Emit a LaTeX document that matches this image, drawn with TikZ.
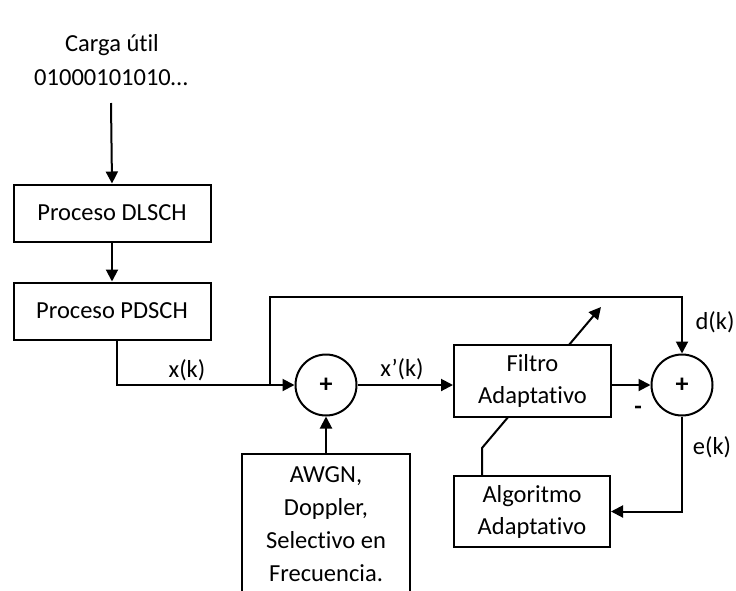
\documentclass[tikz,border=0pt]{standalone}
\usepackage{fontspec}
\setmainfont{Carlito}[Ligatures={NoCommon}]
\usetikzlibrary{arrows.meta,backgrounds}
\begin{document}
\begin{tikzpicture}[x=1pt,y=-1pt,
  every node/.style={font=\fontsize{24.5}{32}\selectfont},
  blk/.style={draw,line width=2pt,fill=white,align=center,inner sep=0pt},
  sumc/.style={draw,line width=2pt,circle,minimum size=61pt,inner sep=0pt,fill=white,font=\fontsize{26}{30}\selectfont\bfseries},
  wire/.style={line width=2pt},
  arr/.style={line width=2pt,-{Triangle[length=12pt,width=12pt]}},
  lbl/.style={inner sep=0pt}]
\useasboundingbox (0,0) rectangle (736,590);
\node[lbl] (carga) at (112,45) {Carga útil};
\node[lbl] (bits) at (111,78) {01000101010…};
\coordinate (bitsend) at (111,103);
\node[blk,minimum width=197pt,minimum height=57pt] (dlsch) at (112,213) {Proceso DLSCH};
\node[blk,minimum width=197pt,minimum height=57pt] (pdsch) at (112,311) {Proceso PDSCH};
\node[sumc] (sum1) at (326,385) {+};
\node[sumc] (sum2) at (682,385) {+};
\node[blk,minimum width=157pt,minimum height=72pt] (filtro) at (532.5,381) {Filtro\\Adaptativo};
\node[blk,minimum width=156pt,minimum height=71pt] (algo) at (532,511.5) {Algoritmo\\Adaptativo};
\node[blk,minimum width=168pt,minimum height=140pt,font=\fontsize{24.5}{33}\selectfont] (awgn) at (326,524) {AWGN,\\Doppler,\\Selectivo en\\Frecuencia.};
\coordinate (br) at (270,385);
\coordinate (tp) at (270,297);
\coordinate (kink) at (482,448);
\coordinate (tip) at (601,307);
\coordinate (fb) at (117,340);
% connectors
\draw[arr] (bitsend) -- (dlsch.north);
\draw[arr] (dlsch.south) -- (pdsch.north);
\draw[arr] (fb) |- (sum1.west);
\draw[arr] (br) -- (tp) -| (sum2.north);
\draw[arr] (sum1.east) -- (sum1.east -| filtro.west);
\draw[arr] (sum2.west -| filtro.east) -- (sum2.west);
\draw[arr] (awgn.north) -- (sum1.south);
\draw[arr] (sum2.south) |- (algo.east);
\begin{scope}[on background layer]
\draw[arr] ([xshift=-50pt]algo.north) -- (kink) -- (tip);
\end{scope}
% labels
\node[lbl] (xk) at (187,370) {x(k)};
\node[lbl] (xpk) at (402,369) {x’(k)};
\node[lbl] (dk) at (715,322) {d(k)};
\node[lbl] (ek) at (712,447) {e(k)};
\node[lbl,font=\fontsize{24.5}{30}\selectfont\bfseries] (minus) at (638,410) {-};
\end{tikzpicture}
\end{document}
